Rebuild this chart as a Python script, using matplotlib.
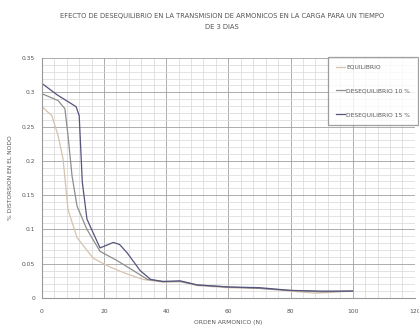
#!/usr/bin/env python3
import matplotlib
matplotlib.use('Agg')
import matplotlib.pyplot as plt
from matplotlib.ticker import MultipleLocator

# Values
LABELS = ['EQUILIBRIO', 'DESEQUILIBRIO 10 %', 'DESEQUILIBRIO 15 %']

x_eq = [0, 3.2, 5.2, 6.8, 8.4, 11.3, 16.5, 22, 27.4, 32.6, 39, 44.5, 50,
        60, 70, 80, 88, 92, 100]
y_eq = [0.279, 0.266, 0.237, 0.203, 0.129, 0.088, 0.058, 0.045, 0.035,
        0.027, 0.023, 0.024, 0.018, 0.015, 0.014, 0.010, 0.007, 0.008, 0.010]

x_d10 = [0, 5.2, 7.4, 8.4, 9.7, 11.3, 14.5, 18.7, 24, 29.4, 34, 39, 44.5,
         50, 60, 70, 80, 90, 100]
y_d10 = [0.298, 0.288, 0.276, 0.237, 0.178, 0.134, 0.100, 0.068, 0.055,
         0.040, 0.027, 0.024, 0.024, 0.019, 0.016, 0.014, 0.011, 0.009, 0.010]

x_d15 = [0, 5, 11, 12, 13, 14.5, 18.7, 23, 25, 27.4, 31.6, 35, 39, 44.5,
         50, 60, 70, 80, 90, 100]
y_d15 = [0.313, 0.296, 0.279, 0.266, 0.169, 0.115, 0.073, 0.081, 0.078,
         0.066, 0.040, 0.027, 0.024, 0.025, 0.019, 0.016, 0.015, 0.011,
         0.010, 0.010]

TITLE = ('EFECTO DE DESEQUILIBRIO EN LA TRANSMISION DE ARMONICOS EN LA CARGA PARA UN TIEMPO\n'
         'DE 3 DIAS')
XLABEL = 'ORDEN ARMONICO (N)'
YLABEL = '% DISTORSION EN EL NODO'

COLORS = ['#d6c2ae', '#8e8e8e', '#54547e']
FS = 4.3


def main():
    fig = plt.figure(figsize=(4.19, 3.26), dpi=100)
    ax = fig.add_axes([0.100, 0.086, 0.890, 0.736])

    series = [(x_eq, y_eq), (x_d10, y_d10), (x_d15, y_d15)]
    for (xs, ys), lab, col in zip(series, LABELS, COLORS):
        ax.plot(xs, ys, '-', color=col, lw=0.9, label=lab)

    ax.set_xlim(0, 120)
    ax.set_ylim(0, 0.35)
    ax.xaxis.set_major_locator(MultipleLocator(20))
    ax.xaxis.set_minor_locator(MultipleLocator(4))
    ax.yaxis.set_minor_locator(MultipleLocator(0.01))
    ax.set_yticks([0, 0.05, 0.1, 0.15, 0.2, 0.25, 0.3, 0.35])
    ax.set_yticklabels(['0', '0.05', '0.1', '0.15', '0.2', '0.25', '0.3', '0.35'])
    ax.grid(which='major', color='#a0a0a0', lw=0.6)
    ax.grid(which='minor', color='#d8d8d8', lw=0.5)
    ax.set_axisbelow(True)
    ax.tick_params(which='both', length=0, labelsize=FS, colors='#555555')
    ax.tick_params(axis='x', pad=8)
    ax.tick_params(axis='y', pad=5)
    for s in ax.spines.values():
        s.set_visible(False)
    ax.spines['left'].set_visible(True)
    ax.spines['left'].set_color('#999999')
    ax.spines['bottom'].set_visible(True)
    ax.spines['bottom'].set_color('#999999')

    ax.set_xlabel(XLABEL, fontsize=FS, color='#555555', labelpad=4)
    ax.set_ylabel(YLABEL, fontsize=FS, color='#555555', labelpad=6)
    fig.text(0.53, 0.934, TITLE, ha='center', va='center', fontsize=4.9,
             color='#555555', linespacing=2.1)

    leg = ax.legend(loc='upper left', bbox_to_anchor=(0.767, 1.005),
                    fontsize=FS, frameon=True, fancybox=False,
                    handlelength=1.5, labelspacing=3.1, borderpad=1.3,
                    handletextpad=0.3, borderaxespad=0)
    leg.get_frame().set_edgecolor('#888888')
    leg.get_frame().set_linewidth(0.9)
    for t in leg.get_texts():
        t.set_color('#555555')

    fig.savefig('out.png', dpi=100)


if __name__ == '__main__':
    main()
